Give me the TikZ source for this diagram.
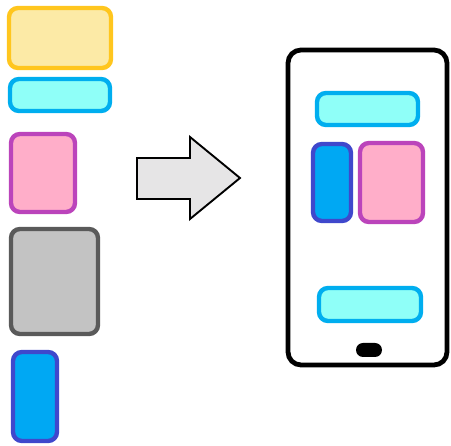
\documentclass[tikz,border=0pt]{standalone}
\begin{document}
\begin{tikzpicture}[x=1pt,y=-1pt,
  tile/.style={line width=4.4pt, rounded corners=9pt},
  yellowtile/.style={tile, draw=tyellowS, fill=tyellowF},
  cyantile/.style={tile, draw=tcyanS, fill=tcyanF},
  pinktile/.style={tile, draw=tpinkS, fill=tpinkF},
  graytile/.style={tile, draw=tgrayS, fill=tgrayF},
  bluetile/.style={tile, draw=tblueS, fill=tblueF},
]
\definecolor{tyellowS}{HTML}{FFC61E}
\definecolor{tyellowF}{HTML}{FCEAA6}
\definecolor{tcyanS}{HTML}{00AEEF}
\definecolor{tcyanF}{HTML}{8FFFF8}
\definecolor{tpinkS}{HTML}{BB44BB}
\definecolor{tpinkF}{HTML}{FFAEC9}
\definecolor{tgrayS}{HTML}{5A5A5A}
\definecolor{tgrayF}{HTML}{C3C3C3}
\definecolor{tblueS}{HTML}{3F48CC}
\definecolor{tblueF}{HTML}{00A8F3}
\definecolor{arrowF}{HTML}{E6E5E6}

\useasboundingbox (0,0) rectangle (451,446);

% loose components
\draw[yellowtile] (9,8) rectangle (111,68);
\draw[cyantile] (10,79) rectangle (110,111);
\draw[pinktile] (11,134) rectangle (75,212);
\draw[graytile] (11,229) rectangle (98,334);
\draw[bluetile] (13,352) rectangle (57,441);

% transform arrow
\draw[line width=1.9pt, fill=arrowF, line join=miter]
  (137,158) -- (190,158) -- (190,137) -- (240,178) -- (190,219) -- (190,199) -- (137,199) -- cycle;

% phone frame
\draw[line width=4.8pt, rounded corners=13pt, fill=white] (288,50) rectangle (447,365);
\fill[black, rounded corners=7pt] (356,343) rectangle (382,357);

% arranged components on screen
\draw[cyantile] (317,93) rectangle (418,125);
\draw[bluetile] (313,144) rectangle (351,221);
\draw[pinktile] (360,143) rectangle (423,222);
\draw[cyantile] (319,288) rectangle (421,321);
\end{tikzpicture}
\end{document}
